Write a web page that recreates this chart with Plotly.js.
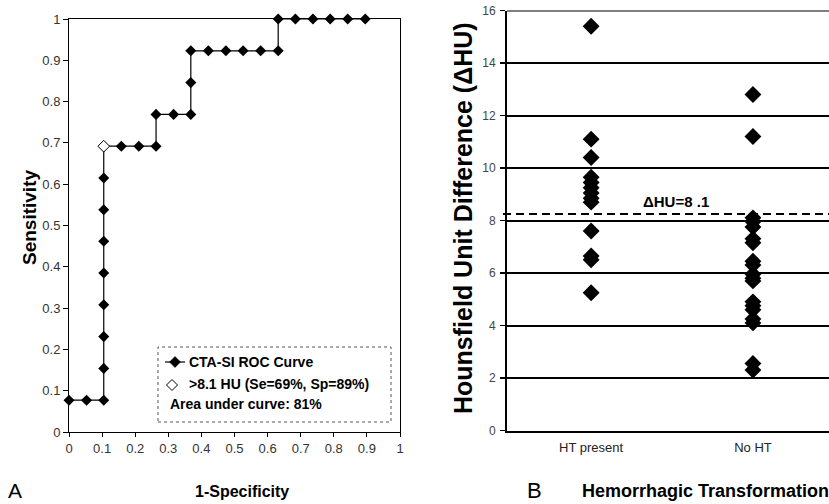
<!DOCTYPE html>
<html>
<head>
<meta charset="utf-8">
<script src="https://cdn.plot.ly/plotly-3.0.1.min.js"></script>
<style>html,body{margin:0;padding:0;background:#fff;}#chart{width:829px;height:504px;}</style>
</head>
<body>
<div id="chart"></div>
<script>
// ---- Data ----
const rocFpr = [0, 0.053, 0.105, 0.105, 0.105, 0.105, 0.105, 0.105, 0.105, 0.105, 0.105,
  0.158, 0.211, 0.263, 0.263, 0.316, 0.368, 0.368, 0.368, 0.421, 0.474, 0.526, 0.579, 0.632,
  0.632, 0.684, 0.737, 0.789, 0.842, 0.895];
const rocTpr = [0.077, 0.077, 0.077, 0.154, 0.231, 0.308, 0.385, 0.462, 0.538, 0.615, 0.692,
  0.692, 0.692, 0.692, 0.769, 0.769, 0.769, 0.846, 0.923, 0.923, 0.923, 0.923, 0.923, 0.923,
  1, 1, 1, 1, 1, 1];
const cutFpr = [0.105];
const cutTpr = [0.692];

const groups = ["HT present", "No HT"];
const htValues = [15.4, 11.1, 10.4, 9.65, 9.45, 9.25, 9.05, 8.85, 8.7, 7.6, 6.65, 6.5, 5.25];
const noHtValues = [12.8, 11.2, 8.1, 7.95, 7.75, 7.3, 7.15, 6.45, 6.3, 5.95, 5.8, 5.7,
  4.9, 4.75, 4.6, 4.25, 4.1, 2.55, 2.3];
const threshold = 8.25;
const yMax = 16;

const legendLabels = ["CTA-SI ROC Curve", ">8.1 HU (Se=69%, Sp=89%)", "Area under curve: 81%"];

// ---- Layout helpers ----
const W = 829, H = 504;
const px = x => x / W;
const py = y => 1 - y / H;
const FONT = "Liberation Sans, Arial, sans-serif";

function diamondPath(cx, cy, r) {
  return `M ${px(cx)},${py(cy - r)} L ${px(cx + r)},${py(cy)} L ${px(cx)},${py(cy + r)} L ${px(cx - r)},${py(cy)} Z`;
}

const traces = [
  {
    x: rocFpr, y: rocTpr, xaxis: "x", yaxis: "y", type: "scatter", mode: "lines+markers",
    line: {color: "black", width: 1.2},
    marker: {symbol: "diamond", size: 8.5, color: "black"},
    cliponaxis: false, showlegend: false
  },
  {
    x: cutFpr, y: cutTpr, xaxis: "x", yaxis: "y", type: "scatter", mode: "markers",
    marker: {symbol: "diamond", size: 9, color: "white", line: {color: "black", width: 1}},
    cliponaxis: false, showlegend: false
  },
  {
    x: htValues.map(() => groups[0]), y: htValues, xaxis: "x2", yaxis: "y2", type: "scatter",
    mode: "markers", marker: {symbol: "diamond", size: 13, color: "black"},
    cliponaxis: false, showlegend: false
  },
  {
    x: noHtValues.map(() => groups[1]), y: noHtValues, xaxis: "x2", yaxis: "y2", type: "scatter",
    mode: "markers", marker: {symbol: "diamond", size: 13, color: "black"},
    cliponaxis: false, showlegend: false
  }
];

const tickFont = {family: FONT, size: 13, color: "#333"};

const layout = {
  width: W, height: H,
  margin: {l: 0, r: 0, t: 0, b: 0, pad: 0},
  paper_bgcolor: "white", plot_bgcolor: "white",
  showlegend: false,
  xaxis: {
    domain: [px(69), px(400)], range: [0, 1], dtick: 0.1, tick0: 0,
    showgrid: false, zeroline: false, showline: true, linecolor: "black", linewidth: 1,
    mirror: true, ticks: "outside", ticklen: 4, tickcolor: "black", tickwidth: 1,
    tickfont: tickFont, anchor: "y", fixedrange: true
  },
  yaxis: {
    domain: [py(432), py(19)], range: [0, 1], dtick: 0.1, tick0: 0,
    showgrid: false, zeroline: false, showline: true, linecolor: "black", linewidth: 1,
    mirror: true, ticks: "outside", ticklen: 5, tickcolor: "black", tickwidth: 1,
    tickfont: tickFont, anchor: "x", fixedrange: true
  },
  xaxis2: {
    domain: [px(507), 1], type: "category", categoryorder: "array", categoryarray: groups,
    range: [-0.52, 1.47], showgrid: false, zeroline: false, showline: true,
    linecolor: "black", linewidth: 2, ticks: "", ticklabelstandoff: 4,
    tickfont: {family: FONT, size: 13, color: "#222"}, anchor: "y2", fixedrange: true
  },
  yaxis2: {
    domain: [py(430.5), py(10.5)], range: [0, yMax], dtick: 2, tick0: 0,
    showgrid: true, gridcolor: "black", gridwidth: 2, zeroline: false,
    showline: true, linecolor: "black", linewidth: 2,
    ticks: "outside", ticklen: 5, tickcolor: "black", tickwidth: 1.5, ticklabelstandoff: 2,
    tickfont: {family: FONT, size: 12, color: "#444"}, anchor: "x2", fixedrange: true
  },
  shapes: [
    {type: "line", xref: "x2 domain", yref: "y2", x0: 0, x1: 1, y0: yMax, y1: yMax,
     line: {color: "black", width: 2}},
    {type: "line", xref: "paper", yref: "y2", x0: px(503), x1: 1, y0: threshold, y1: threshold,
     line: {color: "black", width: 2, dash: "8px,5px"}},
    {type: "rect", xref: "paper", yref: "paper", x0: px(158), x1: px(391), y0: py(422), y1: py(347),
     line: {color: "#555", width: 1, dash: "dot"}, fillcolor: "white"},
    {type: "line", xref: "paper", yref: "paper", x0: px(165), x1: px(185), y0: py(362), y1: py(362),
     line: {color: "black", width: 1.2}},
    {type: "path", xref: "paper", yref: "paper", path: diamondPath(175, 362, 5.5),
     fillcolor: "black", line: {color: "black", width: 0.5}},
    {type: "path", xref: "paper", yref: "paper", path: diamondPath(172, 385, 5.5),
     fillcolor: "white", line: {color: "black", width: 1}}
  ],
  annotations: [
    {xref: "paper", yref: "paper", x: px(187), y: py(362), xanchor: "left", yanchor: "middle",
     text: "<b>" + legendLabels[0] + "</b>", showarrow: false, font: {family: FONT, size: 14, color: "black"}},
    {xref: "paper", yref: "paper", x: px(187), y: py(384), xanchor: "left", yanchor: "middle",
     text: "<b>" + legendLabels[1] + "</b>", showarrow: false, font: {family: FONT, size: 14, color: "black"}},
    {xref: "paper", yref: "paper", x: px(168), y: py(404), xanchor: "left", yanchor: "middle",
     text: "<b>" + legendLabels[2] + "</b>", showarrow: false, font: {family: FONT, size: 14, color: "black"}},
    {xref: "paper", yref: "paper", x: px(676), y: py(201), xanchor: "center", yanchor: "middle",
     text: "<b>ΔHU=8 .1</b>", showarrow: false, font: {family: FONT, size: 15, color: "black"}},
    {xref: "paper", yref: "paper", x: px(29), y: py(218), xanchor: "center", yanchor: "middle",
     textangle: -90, text: "<b>Sensitivity</b>", showarrow: false, font: {family: FONT, size: 19, color: "black"}},
    {xref: "paper", yref: "paper", x: px(463), y: py(218), xanchor: "center", yanchor: "middle",
     textangle: -90, text: "<b>Hounsfield Unit Difference (ΔHU)</b>", showarrow: false,
     font: {family: FONT, size: 25, color: "black"}},
    {xref: "paper", yref: "paper", x: px(242), y: py(491), xanchor: "center", yanchor: "middle",
     text: "<b>1-Specificity</b>", showarrow: false, font: {family: FONT, size: 16, color: "black"}},
    {xref: "paper", yref: "paper", x: px(705), y: py(491), xanchor: "center", yanchor: "middle",
     text: "<b>Hemorrhagic Transformation</b>", showarrow: false, font: {family: FONT, size: 18, color: "black"}},
    {xref: "paper", yref: "paper", x: px(15), y: py(490), xanchor: "center", yanchor: "middle",
     text: "A", showarrow: false, font: {family: FONT, size: 21, color: "black"}},
    {xref: "paper", yref: "paper", x: px(534), y: py(490), xanchor: "center", yanchor: "middle",
     text: "B", showarrow: false, font: {family: FONT, size: 22, color: "black"}}
  ]
};

Plotly.newPlot("chart", traces, layout, {displayModeBar: false, staticPlot: true});
</script>
</body>
</html>
